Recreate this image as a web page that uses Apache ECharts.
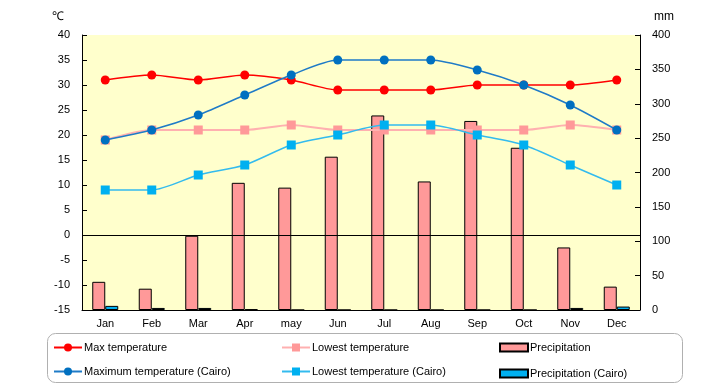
<!DOCTYPE html>
<html><head><meta charset="utf-8">
<script src="https://cdn.jsdelivr.net/npm/echarts@6/dist/echarts.min.js"></script>
<style>html,body{margin:0;padding:0;background:#fff}#c{width:720px;height:385px}</style>
</head><body><div id="c"></div>
<script>
const months = ['Jan','Feb','Mar','Apr','may','Jun','Jul','Aug','Sep','Oct','Nov','Dec'];
const maxTemp = [31,32,31,32,31,29,29,29,30,30,30,31];
const lowTemp = [19,21,21,21,22,21,21,21,21,21,22,21];
const precip = [41,31,108,185,178,223,283,187,275,236,91,34];
const maxCairo = [19,21,24,28,32,35,35,35,33,30,26,21];
const lowCairo = [9,9,12,14,18,20,22,22,20,18,14,10];
const precipCairo = [6,3,3,1,0,0,0,0,0,0,3,5];

const font = 'Liberation Sans, Arial, sans-serif';
const chart = echarts.init(document.getElementById('c'));
const legendBase = {orient:'vertical', itemGap:13, itemWidth:28, itemHeight:10,
  textStyle:{fontSize:11, color:'#000', fontFamily:font, padding:[0,0,0,-3]}};
chart.setOption({
  animation:false,
  graphic:[{type:'rect', shape:{x:47.5,y:333.5,width:635,height:49,r:8},
    style:{fill:'none', stroke:'#b0b0b0', lineWidth:1}}],
  grid:{left:82, right:80, top:35, bottom:75, show:true, backgroundColor:'#FFFFCC', borderWidth:0},
  legend:[
    Object.assign({left:48, top:337, data:['Max temperature','Maximum temperature (Cairo)']}, legendBase),
    Object.assign({left:276, top:337, data:['Lowest temperature','Lowest temperature (Cairo)']}, legendBase),
    Object.assign({left:494, top:337, itemHeight:8,
      data:[{name:'Precipitation', icon:'rect'},{name:'Precipitation (Cairo)', icon:'rect'}]}, legendBase, {itemHeight:8, itemGap:15})
  ],
  xAxis:{type:'category', data:months, axisTick:{show:false},
    axisLine:{onZero:false, lineStyle:{color:'#000'}},
    axisLabel:{color:'#000', fontSize:11, fontFamily:font, margin:8}},
  yAxis:[
    {type:'value', min:-15, max:40, interval:5, name:'℃', nameGap:12,
     nameTextStyle:{color:'#000', fontSize:12, fontFamily:font, align:'right', padding:[0,18,0,0]},
     axisLine:{show:true, onZero:false, lineStyle:{color:'#000'}},
     axisTick:{show:true, inside:true, length:5, lineStyle:{color:'#000'}},
     splitLine:{show:false},
     axisLabel:{color:'#000', fontSize:11, fontFamily:font, margin:12}},
    {type:'value', min:0, max:400, interval:50, name:'mm', nameGap:12, alignTicks:false,
     nameTextStyle:{color:'#000', fontSize:12, fontFamily:font, align:'left', padding:[0,0,0,14]},
     axisLine:{show:true, lineStyle:{color:'#000'}},
     axisTick:{show:true, inside:true, length:5, lineStyle:{color:'#000'}},
     splitLine:{show:false},
     axisLabel:{color:'#000', fontSize:11, fontFamily:font, margin:12}}
  ],
  series:[
    {name:'Precipitation', type:'bar', yAxisIndex:1, data:precip, barWidth:13, barGap:'0%', z:1,
     itemStyle:{color:'#FF9999', borderColor:'#000', borderWidth:1}},
    {name:'Precipitation (Cairo)', type:'bar', yAxisIndex:1, data:precipCairo, barWidth:13, barGap:'0%', z:1,
     itemStyle:{color:'#00B0F0', borderColor:'#000', borderWidth:1}},
    {name:'Max temperature', type:'line', data:maxTemp, smooth:0.25, symbol:'circle', symbolSize:9, z:5,
     lineStyle:{color:'#FF0000', width:1.5}, itemStyle:{color:'#FF0000'},
     markLine:{silent:true, symbol:'none', label:{show:false}, lineStyle:{color:'#000', type:'solid', width:1},
       data:[{yAxis:0}]}},
    {name:'Lowest temperature', type:'line', data:lowTemp, smooth:0.25, symbol:'rect', symbolSize:9, z:4,
     lineStyle:{color:'#FFB0B0', width:2}, itemStyle:{color:'#FF9999'}},
    {name:'Maximum temperature (Cairo)', type:'line', data:maxCairo, smooth:0.25, symbol:'circle', symbolSize:9, z:6,
     lineStyle:{color:'#1F7BC7', width:1.5}, itemStyle:{color:'#0070C0'}},
    {name:'Lowest temperature (Cairo)', type:'line', data:lowCairo, smooth:0.25, symbol:'rect', symbolSize:9, z:6,
     lineStyle:{color:'#33BBEE', width:1.5}, itemStyle:{color:'#00B0F0'}}
  ]
});
</script></body></html>
